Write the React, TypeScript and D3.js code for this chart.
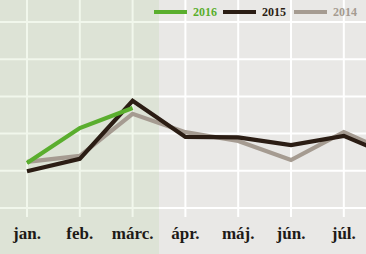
import React from "react";
import * as d3 from "d3";

const months = ["jan.", "feb.", "márc.", "ápr.", "máj.", "jún.", "júl.", "aug."];
const series2016 = [12.1, 21.5, 26.9];
const series2015 = [9.9, 13.2, 28.8, 19.1, 19.0, 16.9, 19.4, 13.4];
const series2014 = [12.4, 14.0, 25.3, 20.4, 18.0, 12.9, 20.4, 14.0];
const yTicks = [0, 10, 20, 30, 40, 50];
const legendItems = [
  { label: "2016", color: "#5aae2e" },
  { label: "2015", color: "#2b1d14" },
  { label: "2014", color: "#a59b91" },
];

const W = 366;
const H = 254;

export default function App() {
  const x = d3.scalePoint<string>().domain(months).range([27, 27 + 7 * 52.8]);
  const y = d3.scaleLinear().domain([0, 50]).range([208, 22]);
  const line = d3
    .line<number>()
    .x((_, i) => x(months[i]) as number)
    .y((d) => y(d));
  const step = x.step();
  const shadeW = (x("márc.") as number) + step / 2;
  const seriesList = [
    { data: series2014, color: legendItems[2].color },
    { data: series2015, color: legendItems[1].color },
    { data: series2016, color: legendItems[0].color },
  ];
  const legendX = [154, 223, 294];
  const visibleMonths = months.filter((m) => (x(m) as number) + 15 < W);
  return (
    <svg
      width={W}
      height={H}
      style={{ position: "absolute", left: 0, top: 0, display: "block" }}
    >
      <rect x={0} y={0} width={W} height={H} fill="#e9e8e6" />
      {yTicks.map((t) => (
        <line key={t} x1={0} x2={W} y1={y(t)} y2={y(t)} stroke="#fff" strokeWidth={2} />
      ))}
      {months.map((m) => (
        <line
          key={m}
          x1={x(m) as number}
          x2={x(m) as number}
          y1={0}
          y2={217}
          stroke="#fff"
          strokeWidth={2}
        />
      ))}
      <rect x={0} y={0} width={shadeW} height={H} fill="rgb(150,190,110)" opacity={0.13} />
      {seriesList.map((s, i) => (
        <path
          key={i}
          d={line(s.data) as string}
          fill="none"
          stroke={s.color}
          strokeWidth={4.2}
        />
      ))}
      {visibleMonths.map((m) => (
        <text
          key={m}
          x={x(m) as number}
          y={239}
          textAnchor="middle"
          fontFamily="'Liberation Serif', serif"
          fontWeight="bold"
          fontSize={17}
          fill="#1e1a17"
        >
          {m}
        </text>
      ))}
      {legendItems.map((it, i) => (
        <g key={it.label}>
          <line
            x1={legendX[i]}
            x2={legendX[i] + 33}
            y1={12}
            y2={12}
            stroke={it.color}
            strokeWidth={4.2}
          />
          <text
            x={legendX[i] + 39}
            y={16}
            fontFamily="'Liberation Serif', serif"
            fontWeight="bold"
            fontSize={12}
            fill={it.color}
          >
            {it.label}
          </text>
        </g>
      ))}
    </svg>
  );
}
